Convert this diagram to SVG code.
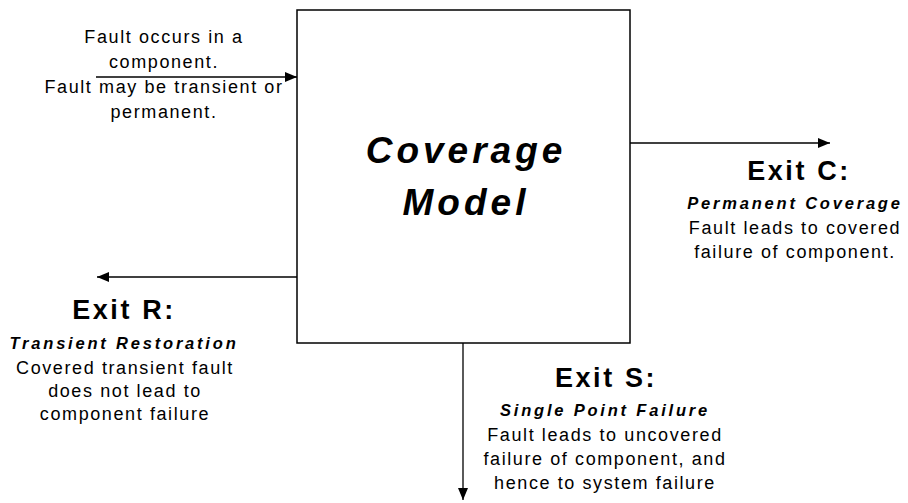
<svg xmlns="http://www.w3.org/2000/svg" width="908" height="503" viewBox="0 0 908 503">
<style>
text{font-family:"Liberation Sans",Arial,sans-serif;fill:#000;text-anchor:middle}
.body{font-size:18px;letter-spacing:1.6px}
.exit{font-size:27px;font-weight:bold;letter-spacing:2.6px}
.sub{font-size:16.5px;font-weight:bold;font-style:italic;letter-spacing:2.8px}
.title{font-size:37px;font-weight:bold;font-style:italic;letter-spacing:4px}
.line{stroke:#000;stroke-width:1.3;fill:none}
</style>
<defs>
<marker id="arr" viewBox="0 0 12 10" refX="12" refY="5" markerWidth="12" markerHeight="10" markerUnits="userSpaceOnUse" orient="auto">
<path d="M0,0 L12,5 L0,10 Z" fill="#000"/>
</marker>
</defs>
<rect width="908" height="503" fill="#fff"/>
<g id="connectors">
<line class="line" x1="96" y1="77" x2="297" y2="77" marker-end="url(#arr)"/>
<line class="line" x1="630" y1="143" x2="830" y2="143" marker-end="url(#arr)"/>
<line class="line" x1="297" y1="277" x2="97" y2="277" marker-end="url(#arr)"/>
<line class="line" x1="463" y1="343" x2="463" y2="500" marker-end="url(#arr)"/>
</g>
<g id="coverage-model">
<rect x="297" y="10" width="333" height="333" fill="#fff" stroke="#000" stroke-width="1.5"/>
<text class="title" x="466" y="163">Coverage</text>
<text class="title" x="466" y="215">Model</text>
</g>
<g id="input">
<text class="body" x="164" y="43">Fault occurs in a</text>
<text class="body" x="164" y="68">component.</text>
<text class="body" x="164" y="93">Fault may be transient or</text>
<text class="body" x="164" y="118">permanent.</text>
</g>
<g id="exit-c">
<text class="exit" x="799" y="180">Exit C:</text>
<text class="sub" x="795" y="209">Permanent Coverage</text>
<text class="body" x="795" y="234">Fault leads to covered</text>
<text class="body" x="795" y="258">failure of component.</text>
</g>
<g id="exit-r">
<text class="exit" x="124" y="319">Exit R:</text>
<text class="sub" x="124" y="349">Transient Restoration</text>
<text class="body" x="125" y="374">Covered transient fault</text>
<text class="body" x="125" y="397">does not lead to</text>
<text class="body" x="125" y="420">component failure</text>
</g>
<g id="exit-s">
<text class="exit" x="606" y="387">Exit S:</text>
<text class="sub" x="605" y="416">Single Point Failure</text>
<text class="body" x="605" y="441">Fault leads to uncovered</text>
<text class="body" x="605" y="465">failure of component, and</text>
<text class="body" x="605" y="489">hence to system failure</text>
</g>
</svg>
